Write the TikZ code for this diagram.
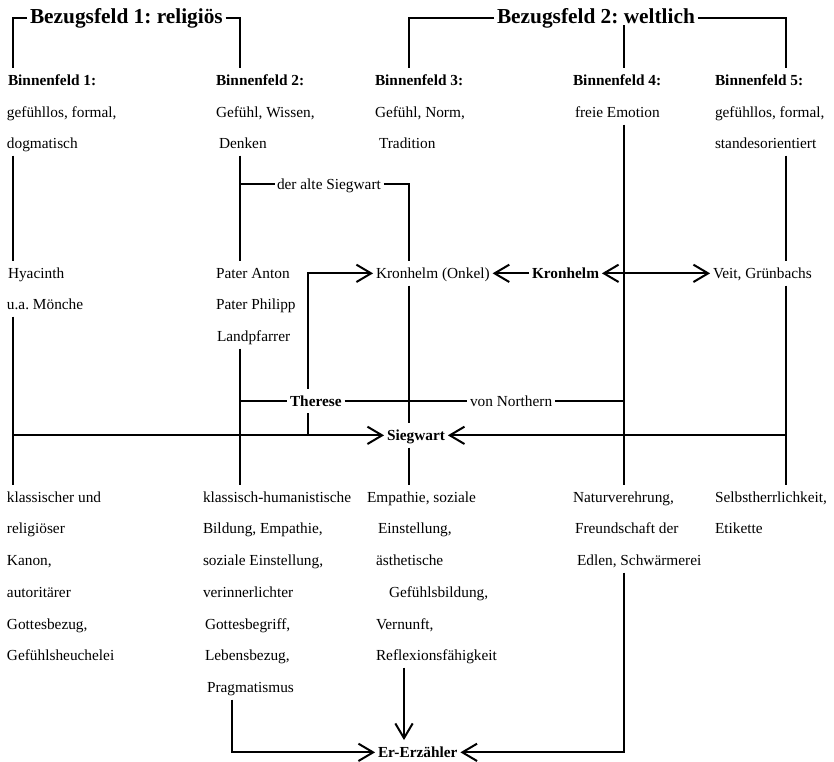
\documentclass[tikz,border=0pt]{standalone}
\usepackage{fontspec}
\setmainfont{Liberation Serif}
\frenchspacing
\usetikzlibrary{arrows.meta,backgrounds}
\begin{document}
\begin{tikzpicture}[x=0.75pt,y=-0.75pt,
  txt/.style={font=\fontsize{11.5}{14}\selectfont, inner sep=2pt, text height=10.5pt, text depth=3.5pt, anchor=text},
  bld/.style={txt, font=\fontsize{11.5}{14}\selectfont\bfseries},
  ttl/.style={font=\fontsize{16}{19}\selectfont\bfseries, inner sep=2pt, text height=11pt, text depth=3.5pt, anchor=text},
  ln/.style={line width=1.5pt},
  arr/.style={ln, -{Straight Barb[length=11pt,width=13pt]}},
  darr/.style={ln, {Straight Barb[length=11pt,width=13pt]}-{Straight Barb[length=11pt,width=13pt]}}]
\useasboundingbox (0,0) rectangle (834,761);
% column coordinates
\coordinate (hl) at (0,18);
\coordinate (c1) at (13,0);
\coordinate (c2) at (240,0);
\coordinate (c3) at (409,0);
\coordinate (c4) at (624,0);
\coordinate (c5) at (786,0);
\coordinate (c6) at (308,0);
\coordinate (c7) at (232,0);
\coordinate (c8) at (404,0);
% titles
\node[ttl] (t1) at (30,23) {Bezugsfeld 1: religiös};
\node[ttl] (t2) at (497,23) {Bezugsfeld 2: weltlich};
% upper blocks
\node[bld] (b1a) at (8,85) {Binnenfeld 1:};
\node[txt] (b1b) at (7,117) {gefühllos, formal,};
\node[txt] (b1c) at (7,148) {dogmatisch};
\node[bld] (b2a) at (216,85) {Binnenfeld 2:};
\node[txt] (b2b) at (216,117) {Gefühl, Wissen,};
\node[txt] (b2c) at (219,148) {Denken};
\node[bld] (b3a) at (375,85) {Binnenfeld 3:};
\node[txt] (b3b) at (375,117) {Gefühl, Norm,};
\node[txt] (b3c) at (379,148) {Tradition};
\node[bld] (b4a) at (573,85) {Binnenfeld 4:};
\node[txt] (b4b) at (575,117) {freie Emotion};
\node[bld] (b5a) at (715,85) {Binnenfeld 5:};
\node[txt] (b5b) at (715,117) {gefühllos, formal,};
\node[txt] (b5c) at (715,148) {standesorientiert};
\node[txt] (das) at (277,189) {der alte Siegwart};
% middle
\node[txt] (m1a) at (8,278) {Hyacinth};
\node[txt] (m1b) at (7,309) {u.a. Mönche};
\node[txt] (m2a) at (216,278) {Pater Anton};
\node[txt] (m2b) at (216,309) {Pater Philipp};
\node[txt] (m2c) at (217,341) {Landpfarrer};
\node[txt] (kro) at (376,278) {Kronhelm (Onkel)};
\node[bld] (krb) at (532,278) {Kronhelm};
\node[txt] (veit) at (713,278) {Veit, Grünbachs};
\node[bld, fill=white] (ther) at (290,406) {Therese};
\node[txt] (vnor) at (470,406) {von Northern};
\node[bld] (sieg) at (387,440) {Siegwart};
% lower blocks
\node[txt] (l1a) at (7,502) {klassischer und};
\node[txt] (l1b) at (7,533) {religiöser};
\node[txt] (l1c) at (7,565) {Kanon,};
\node[txt] (l1d) at (7,597) {autoritärer};
\node[txt] (l1e) at (7,629) {Gottesbezug,};
\node[txt] (l1f) at (7,660) {Gefühlsheuchelei};
\node[txt] (l2a) at (203,502) {klassisch-humanistische};
\node[txt] (l2b) at (203,533) {Bildung, Empathie,};
\node[txt] (l2c) at (203,565) {soziale Einstellung,};
\node[txt] (l2d) at (203,597) {verinnerlichter};
\node[txt] (l2e) at (205,629) {Gottesbegriff,};
\node[txt] (l2f) at (205,660) {Lebensbezug,};
\node[txt] (l2g) at (207,692) {Pragmatismus};
\node[txt] (l3a) at (367,502) {Empathie, soziale};
\node[txt] (l3b) at (378,533) {Einstellung,};
\node[txt] (l3c) at (376,565) {ästhetische};
\node[txt] (l3d) at (389,597) {Gefühlsbildung,};
\node[txt] (l3e) at (376,629) {Vernunft,};
\node[txt] (l3f) at (376,660) {Reflexionsfähigkeit};
\node[txt] (l4a) at (573,502) {Naturverehrung,};
\node[txt] (l4b) at (575,533) {Freundschaft der};
\node[txt] (l4c) at (577,565) {Edlen, Schwärmerei};
\node[txt] (l5a) at (715,502) {Selbstherrlichkeit,};
\node[txt] (l5b) at (715,533) {Etikette};
\node[bld] (ere) at (378,757) {Er-Erzähler};
% connectors
\begin{scope}[on background layer]
\draw[ln] (t1.west |- hl) -| (b1a.north -| c1);
\draw[ln] (t1.east |- hl) -| (b2a.north -| c2);
\draw[ln] (t2.west |- hl) -| (b3a.north -| c3);
\draw[ln] (t2.east |- hl) -| (b5a.north -| c5);
\draw[ln, shorten <=-4pt] (t2.south -| c4) -- (b4a.north -| c4);
\draw[ln] (b1c.south -| c1) -- (m1a.north -| c1);
\draw[ln] (m1b.south -| c1) -- (l1a.north -| c1);
\draw[ln] (b2c.south -| c2) -- (m2a.north -| c2);
\draw[ln] (m2c.south -| c2) -- (l2a.north -| c2);
\draw[ln, shorten >=-1pt] (das.west -| c2) -- (das.west);
\draw[ln] (das.east) -| (kro.north -| c3);
\draw[ln] (kro.south -| c3) -- (sieg.north -| c3);
\draw[ln] (sieg.south -| c3) -- (l3a.north -| c3);
\draw[ln] (b4b.south -| c4) -- (l4a.north -| c4);
\draw[ln] (b5c.south -| c5) -- (veit.north -| c5);
\draw[ln] (veit.south -| c5) -- (l5a.north -| c5);
\draw[arr] (sieg.west -| c1) -- (sieg.west);
\draw[arr] (sieg.east -| c5) -- (sieg.east);
\draw[ln] (ther.west -| c2) -- (ther.west);
\draw[ln] (ther.east) -- (vnor.west);
\draw[ln] (vnor.east) -- (vnor.east -| c4);
\draw[arr] (sieg.west -| c6) |- (kro.west);
\draw[arr] (krb.west) -- (kro.east);
\draw[darr] (krb.east) -- (veit.west);
\draw[arr] (l2g.south -| c7) |- (ere.west);
\draw[arr] (l3f.south -| c8) -- (ere.north -| c8);
\draw[arr] (l4c.south -| c4) |- (ere.east);
\end{scope}
\end{tikzpicture}
\end{document}
